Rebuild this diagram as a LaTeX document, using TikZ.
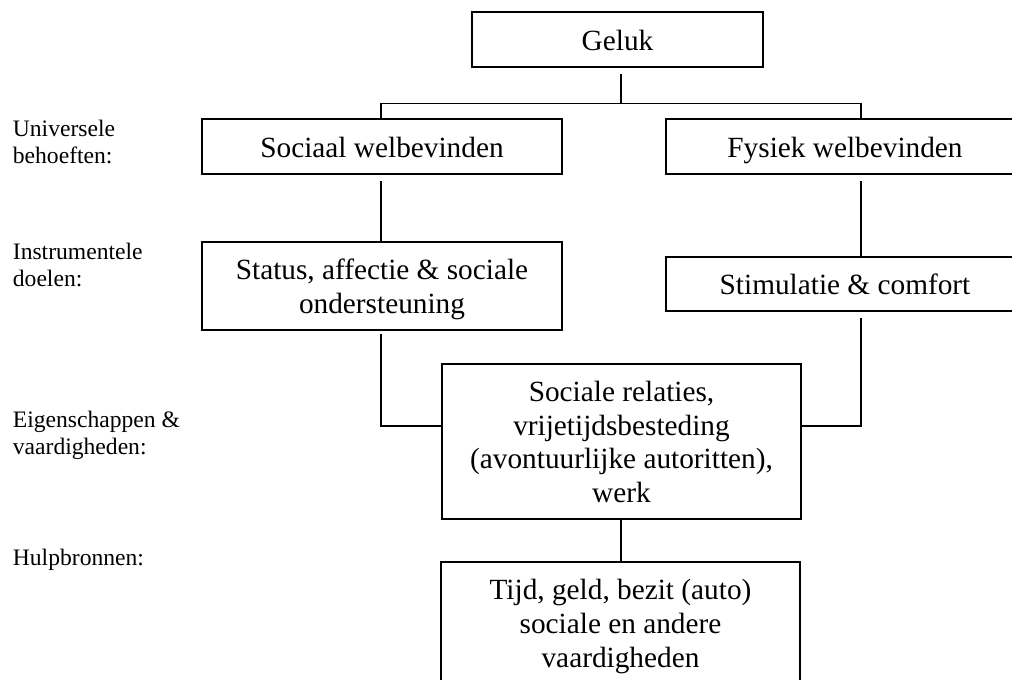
\documentclass[tikz,border=0pt]{standalone}
\usepackage{fontspec}
\setmainfont{Liberation Serif}
\usetikzlibrary{calc}
\newcommand\lnstrut{\rule[-6.35pt]{0pt}{33.7pt}}
\tikzset{
  box/.style={draw=black, line width=2pt, inner sep=0pt, align=center,
    font=\fontsize{29.3}{33.7}\selectfont},
  conn/.style={draw=black, line width=1.3pt},
  lbl/.style={anchor=base west, inner sep=0pt, align=left,
    font=\fontsize{23.6}{27}\selectfont}
}
\begin{document}
\begin{tikzpicture}[x=1pt,y=-1pt]
\useasboundingbox (0,0) rectangle (1012,680);
\clip (0,0) rectangle (1012,680);
% boxes
\node[box, minimum width=291pt, minimum height=55pt] (geluk) at (617.5,39.5) {\lnstrut Geluk};
\node[box, minimum width=360pt, minimum height=55pt] (sociaal) at (382,146.5) {\lnstrut Sociaal welbevinden};
\node[box, minimum width=358pt, minimum height=55pt] (fysiek) at (845,146.5) {\lnstrut Fysiek welbevinden};
\node[box, minimum width=360pt, minimum height=88pt] (status) at (382,286) {\lnstrut Status, affectie \& sociale\\\lnstrut ondersteuning};
\node[box, minimum width=358pt, minimum height=54pt] (stim) at (845,284) {\lnstrut Stimulatie \& comfort};
\node[box, minimum width=359pt, minimum height=155pt] (relaties) at (621.5,441.5) {\lnstrut Sociale relaties,\\\lnstrut vrijetijdsbesteding\\\lnstrut (avontuurlijke autoritten),\\\lnstrut werk};
\node[box, minimum width=359pt, minimum height=122pt] (tijd) at (620.5,623) {\lnstrut Tijd, geld, bezit (auto)\\\lnstrut sociale en andere\\\lnstrut vaardigheden};
% labels (base anchor = baseline of last line)
\node[lbl] (l1) at (12.7,163) {Universele\\behoeften:};
\node[lbl] (l2) at (12.7,286) {Instrumentele\\doelen:};
\node[lbl] (l3) at (12.7,454) {Eigenschappen \&\\vaardigheden:};
\node[lbl] (l4) at (12.7,565) {Hulpbronnen:};
% helper coordinates
\coordinate (hub) at (621,103.5);
\coordinate (lx) at (381,0);
\coordinate (rx) at (861,0);
\coordinate (ly) at (0,426);
% connectors
\draw[conn] ($(geluk.south -| hub)+(0,-6pt)$) -- (hub);
\draw[conn] (sociaal.north -| lx) |- (hub) -| (fysiek.north -| rx);
\draw[conn] ($(sociaal.south -| lx)+(0,-6pt)$) -- (status.north -| lx);
\draw[conn] ($(fysiek.south -| rx)+(0,-6pt)$) -- (stim.north -| rx);
\draw[conn] ($(status.south -| lx)+(0,-3pt)$) |- (relaties.west |- ly);
\draw[conn] ($(stim.south -| rx)+(0,-6pt)$) |- (relaties.east |- ly);
\draw[conn] (relaties.south -| hub) -- (tijd.north -| hub);
\end{tikzpicture}
\end{document}
